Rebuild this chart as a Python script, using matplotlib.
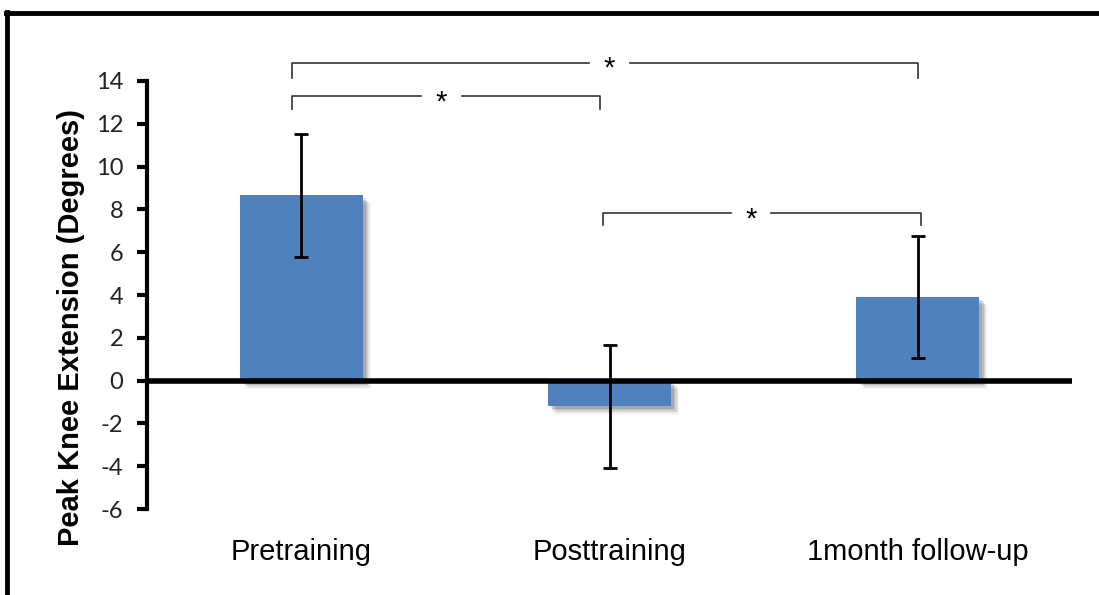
import numpy as np
import matplotlib
matplotlib.use('Agg')
import matplotlib.pyplot as plt
import matplotlib.patheffects as pe
from matplotlib.lines import Line2D

# values
groups = ['Pretraining', 'Posttraining', '1month follow-up']
means = [8.65, -1.2, 3.9]
errs = [2.88, 2.86, 2.86]
yticks = [-6, -4, -2, 0, 2, 4, 6, 8, 10, 12, 14]

# significance brackets: (left, right, top y, tick bottom y, star x)
brackets = [(-0.03, 2.0, 14.86, 14.14, 1.0),
            (-0.03, 0.97, 13.3, 12.69, 0.455),
            (0.98, 2.01, 7.83, 7.26, 1.46)]

fig = plt.figure(figsize=(10.99, 5.95), dpi=100)
ax = fig.add_axes([0.1338, 0.1445, 0.8416, 0.7194])

x = np.arange(len(groups))
shadow = [pe.SimplePatchShadow(offset=(o, -o), shadow_rgbFace='black', alpha=a)
          for o, a in [(6, 0.04), (5, 0.06), (4, 0.08), (3, 0.1), (2, 0.1)]]
bars = ax.bar(x, means, width=0.4, color='#4F81BD', zorder=2,
              path_effects=shadow + [pe.Normal()])
ax.axhline(0, color='black', lw=4, zorder=3)
ax.errorbar(x, means, yerr=errs, fmt='none', ecolor='black', elinewidth=2,
            capsize=5, capthick=2, zorder=4)

ax.set_xlim(-0.5, 2.5)
ax.set_ylim(-6, 14)
ax.set_yticks(yticks)
ax.set_yticklabels([str(t) for t in yticks], fontfamily='Lato', fontsize=17, color='#222222')
ax.set_xticks(x)
ax.set_xticklabels(groups, fontfamily='Liberation Sans', fontsize=21)
ax.tick_params(axis='x', length=0, pad=21)
ax.tick_params(axis='y', direction='out', length=7, width=3, pad=10)

for s in ['top', 'right', 'bottom']:
    ax.spines[s].set_visible(False)
ax.spines['left'].set_linewidth(3)

gap = 0.065
for l, r, ytop, ybot, sx in brackets:
    kw = dict(color='#333333', lw=1.2, clip_on=False, zorder=5)
    ax.plot([l, l, sx - gap], [ybot, ytop, ytop], **kw)
    ax.plot([sx + gap, r, r], [ytop, ytop, ybot], **kw)
    ax.text(sx, ytop - 0.3, '*', ha='center', va='center', fontsize=21,
            fontfamily='Liberation Sans', clip_on=False)

fig.text(71 / 1099, 1 - 328 / 595, 'Peak Knee Extension (Degrees)', rotation=90,
         ha='center', va='center', fontsize=21, fontweight='bold',
         fontfamily='Liberation Sans')

# outer frame (only top and left visible in the original crop)
fig.add_artist(Line2D([6 / 1099, 1.0], [1 - 13 / 595, 1 - 13 / 595], color='black', lw=3.5))
fig.add_artist(Line2D([6.5 / 1099, 6.5 / 1099], [0, 1 - 11.5 / 595], color='black', lw=3.5))

fig.savefig('out.png', dpi=100)
